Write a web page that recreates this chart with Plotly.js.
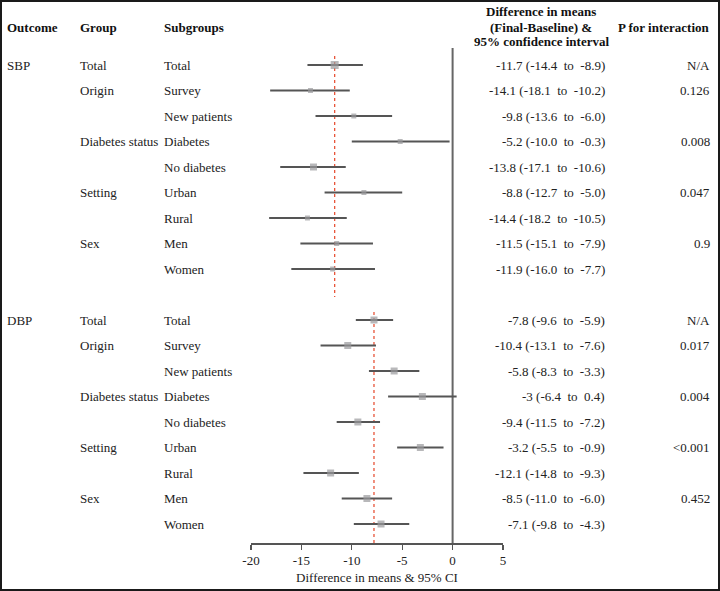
<!DOCTYPE html>
<html>
<head>
<meta charset="utf-8">
<script src="https://cdn.plot.ly/plotly-3.0.1.min.js"></script>
<style>
  html, body { margin: 0; padding: 0; background: #fff; }
  #chart { width: 720px; height: 591px; }
</style>
</head>
<body>
<div id="chart"></div>
<script>
// ---------------- data ----------------
const outcomes = ['SBP', 'DBP'];
const groups = ['Total', 'Origin', '', 'Diabetes status', '', 'Setting', '', 'Sex', ''];
const subgroups = ['Total', 'Survey', 'New patients', 'Diabetes', 'No diabetes', 'Urban', 'Rural', 'Men', 'Women'];

const sbpMean = [-11.7, -14.1, -9.8, -5.2, -13.8, -8.8, -14.4, -11.5, -11.9];
const sbpLow  = [-14.4, -18.1, -13.6, -10.0, -17.1, -12.7, -18.2, -15.1, -16.0];
const sbpHigh = [-8.9, -10.2, -6.0, -0.3, -10.6, -5.0, -10.5, -7.9, -7.7];
const sbpP    = ['N/A', '0.126', '', '0.008', '', '0.047', '', '0.9', ''];

const dbpMean = [-7.8, -10.4, -5.8, -3, -9.4, -3.2, -12.1, -8.5, -7.1];
const dbpLow  = [-9.6, -13.1, -8.3, -6.4, -11.5, -5.5, -14.8, -11.0, -9.8];
const dbpHigh = [-5.9, -7.6, -3.3, 0.4, -7.2, -0.9, -9.3, -6.0, -4.3];
const dbpP    = ['N/A', '0.017', '', '0.004', '', '<0.001', '', '0.452', ''];

const sbpWeight = [8, 5, 5, 5, 7, 5, 5, 5, 5];
const dbpWeight = [7, 7, 7, 7, 7, 7, 7, 7, 7];

const xTicks = [-20, -15, -10, -5, 0, 5];

// ---------------- layout helpers ----------------
const W = 720, H = 591;
const ROW0 = 65, ROWH = 25.5, AXISPX = 543;
const FONT = 'Liberation Serif, Times New Roman, serif';
const TXT = '#222222';
const NB = '\u00a0';
const esc = s => s.replace(/&/g, '&amp;').replace(/</g, '&lt;').replace(/>/g, '&gt;');

const blocks = [
  {name: outcomes[0], mean: sbpMean, lo: sbpLow, hi: sbpHigh, p: sbpP, w: sbpWeight, start: 0},
  {name: outcomes[1], mean: dbpMean, lo: dbpLow, hi: dbpHigh, p: dbpP, w: dbpWeight, start: 10}
];

const traces = [];
const annotations = [];
const shapes = [];

function ann(text, xpx, y, anchor, opts) {
  annotations.push(Object.assign({
    text: text, x: xpx / W, xref: 'paper', y: y, yref: 'y',
    xanchor: anchor, yanchor: 'middle', showarrow: false,
    font: {family: FONT, size: 13, color: TXT}
  }, opts || {}));
}

blocks.forEach(b => {
  const ys = b.mean.map((_, i) => b.start + i);
  traces.push({
    type: 'scatter', mode: 'markers',
    x: b.mean, y: ys,
    error_x: {
      type: 'data', symmetric: false,
      array: b.hi.map((h, i) => h - b.mean[i]),
      arrayminus: b.mean.map((m, i) => m - b.lo[i]),
      width: 0, thickness: 1.8, color: '#555555'
    },
    marker: {symbol: 'square', size: b.w, color: '#9a9a9c', line: {width: 0}},
    hoverinfo: 'skip'
  });
  ann(b.name, 5, b.start, 'left');
  b.mean.forEach((m, i) => {
    const y = b.start + i;
    if (groups[i]) ann(groups[i], 78, y, 'left');
    ann(subgroups[i], 162, y, 'left');
    const txt = String(m) + NB + '(' + b.lo[i].toFixed(1) + NB + NB + 'to' + NB + NB + b.hi[i].toFixed(1) + ')';
    ann(txt, 607, y, 'right');
    if (b.p[i]) ann(esc(b.p[i]), 712, y, 'right');
  });
});

// header texts
function head(text, xpx, ypx, anchor) {
  annotations.push({
    text: '<b>' + esc(text) + '</b>', x: xpx / W, xref: 'paper', y: 1 - ypx / H, yref: 'paper',
    xanchor: anchor, yanchor: 'middle', showarrow: false,
    font: {family: FONT, size: 13, color: '#111'}
  });
}
head('Outcome', 5, 27, 'left');
head('Group', 78, 27, 'left');
head('Subgroups', 162, 27, 'left');
head('Difference in means', 541, 12, 'center');
head('(Final-Baseline) &', 541, 27, 'center');
head('95% confidence interval', 541, 42, 'center');
head('P for interaction', 712, 27, 'right');

// vertical reference lines
const pxToRow = p => (p - ROW0) / ROWH;
shapes.push({type: 'line', xref: 'x', yref: 'y', x0: 0, x1: 0, y0: pxToRow(48), y1: pxToRow(AXISPX),
  line: {color: '#666666', width: 2}, layer: 'below'});
shapes.push({type: 'line', xref: 'x', yref: 'y', x0: sbpMean[0], x1: sbpMean[0], y0: pxToRow(56), y1: pxToRow(297),
  line: {color: '#e8553a', width: 1.3, dash: 'dot'}, layer: 'below'});
shapes.push({type: 'line', xref: 'x', yref: 'y', x0: dbpMean[0], x1: dbpMean[0], y0: pxToRow(312), y1: pxToRow(AXISPX),
  line: {color: '#e8553a', width: 1.3, dash: 'dot'}, layer: 'below'});
// frame
shapes.push({type: 'rect', xref: 'paper', yref: 'paper', x0: 0, x1: 1, y0: 0, y1: 1,
  line: {color: '#1a1a1a', width: 4}, fillcolor: 'rgba(0,0,0,0)'});

const layout = {
  width: W, height: H,
  margin: {l: 0, r: 0, t: 0, b: 0, pad: 0},
  paper_bgcolor: '#ffffff', plot_bgcolor: 'rgba(0,0,0,0)',
  showlegend: false,
  xaxis: {
    domain: [251 / W, 503 / W], range: [-20, 5],
    tickvals: xTicks, ticktext: xTicks.map(String),
    showline: true, linecolor: '#555555', linewidth: 1.5,
    ticks: 'outside', ticklen: 5, tickwidth: 1.2, tickcolor: '#555555',
    showgrid: false, zeroline: false, automargin: false,
    tickfont: {family: FONT, size: 13, color: TXT},
    title: {text: 'Difference in means &amp; 95% CI', font: {family: FONT, size: 13, color: TXT}, standoff: 6},
    fixedrange: true
  },
  yaxis: {
    domain: [(H - AXISPX) / H, 1],
    range: [pxToRow(AXISPX), pxToRow(0)],
    visible: false, showgrid: false, zeroline: false, fixedrange: true
  },
  annotations: annotations,
  shapes: shapes
};

Plotly.newPlot('chart', traces, layout, {displayModeBar: false, staticPlot: true});
</script>
</body>
</html>
